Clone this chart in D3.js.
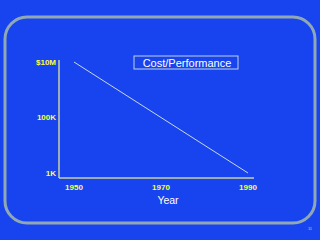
<!DOCTYPE html>
<html>
<head>
<meta charset="utf-8">
<script src="https://cdn.jsdelivr.net/npm/d3@7"></script>
<style>
  body { margin: 0; background: #1844f0; }
  svg { display: block; }
</style>
</head>
<body>
<svg id="chart"></svg>
<script>
// data
const years = [1950, 1990];
const costs = [1e7, 1e3];
const xTicks = [1950, 1970, 1990];
const yTicks = [1e7, 1e5, 1e3];
const yTickLabels = ["$10M", "100K", "1K"];

const width = 320, height = 240;
const svg = d3.select("#chart").attr("width", width).attr("height", height);

svg.append("rect").attr("width", width).attr("height", height).attr("fill", "#1844f0");

// slide frame
svg.append("rect")
    .attr("x", 5).attr("y", 17)
    .attr("width", 310).attr("height", 206)
    .attr("rx", 22).attr("ry", 22)
    .attr("fill", "none")
    .attr("stroke", "#90a8b4")
    .attr("stroke-width", 3);

const x = d3.scaleLinear().domain([1950, 1990]).range([74, 248]);
const y = d3.scaleLog().domain([1e3, 1e7]).range([173, 62]);

// axes lines
svg.append("line")
    .attr("x1", 59).attr("x2", 59).attr("y1", 60).attr("y2", 178)
    .attr("stroke", "#c8d0a0").attr("stroke-width", 1.5);
svg.append("line")
    .attr("x1", 59).attr("x2", 254).attr("y1", 178).attr("y2", 178)
    .attr("stroke", "#c8d0a0").attr("stroke-width", 1.5);

const yellow = "#ffff3c";

// y tick labels
svg.selectAll(".ylab")
    .data(yTicks)
    .join("text")
    .attr("class", "ylab")
    .attr("x", 56)
    .attr("y", d => y(d))
    .attr("dy", "0.35em")
    .attr("text-anchor", "end")
    .attr("font-family", "Liberation Sans, Arial, sans-serif")
    .attr("font-weight", "bold")
    .attr("font-size", 8)
    .attr("fill", yellow)
    .text((d, i) => yTickLabels[i]);

// x tick labels
svg.selectAll(".xlab")
    .data(xTicks)
    .join("text")
    .attr("class", "xlab")
    .attr("x", d => x(d))
    .attr("y", 190)
    .attr("text-anchor", "middle")
    .attr("font-family", "Liberation Sans, Arial, sans-serif")
    .attr("font-weight", "bold")
    .attr("font-size", 8)
    .attr("fill", yellow)
    .text(d => d);

svg.append("text")
    .attr("x", 168).attr("y", 204)
    .attr("text-anchor", "middle")
    .attr("font-family", "Liberation Sans, Arial, sans-serif")
    .attr("font-size", 10.5)
    .attr("fill", "#ffffff")
    .text("Year");

// the line
const line = d3.line().x(d => x(d[0])).y(d => y(d[1]));
svg.append("path")
    .datum(years.map((d, i) => [d, costs[i]]))
    .attr("d", line)
    .attr("fill", "none")
    .attr("stroke", "#c8d8e0")
    .attr("stroke-width", 1);

// title box
svg.append("rect")
    .attr("x", 134).attr("y", 56)
    .attr("width", 104).attr("height", 13)
    .attr("fill", "none")
    .attr("stroke", "#c0d0e0")
    .attr("stroke-width", 1);
svg.append("text")
    .attr("x", 187).attr("y", 66.5)
    .attr("text-anchor", "middle")
    .attr("font-family", "Liberation Sans, Arial, sans-serif")
    .attr("font-size", 11)
    .attr("fill", "#ffffff")
    .text("Cost/Performance");

// page number
svg.append("text")
    .attr("x", 310).attr("y", 230)
    .attr("text-anchor", "middle")
    .attr("font-family", "Liberation Sans, Arial, sans-serif")
    .attr("font-size", 4)
    .attr("fill", "#c0c8d8")
    .text("11");
</script>
</body>
</html>
